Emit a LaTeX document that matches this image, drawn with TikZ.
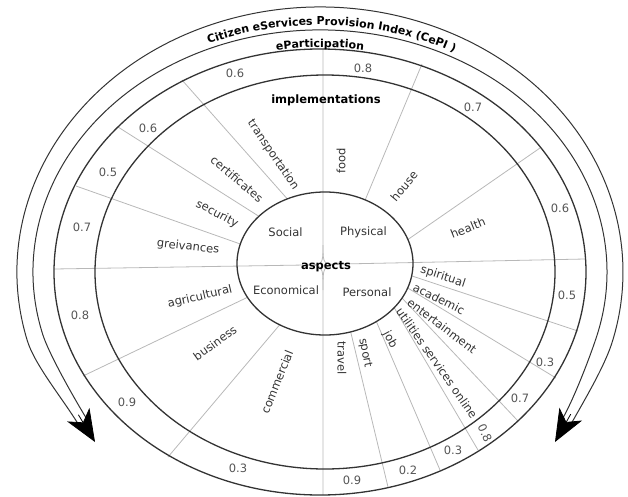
\documentclass[tikz,border=0pt]{standalone}
\usepackage{fontspec}
\setmainfont{DejaVu Sans}
\usetikzlibrary{arrows.meta,decorations.text}

\definecolor{ringline}{HTML}{333333}
\definecolor{spokeline}{HTML}{B8B8B8}
\definecolor{labeltext}{HTML}{333333}
\definecolor{scoretext}{HTML}{555555}

\begin{document}
\begin{tikzpicture}[x=1pt, y=1pt,
    ring/.style={draw=ringline, line width=1.3pt},
    band/.style={draw=ringline, line width=1pt},
    spoke/.style={draw=spokeline, line width=0.8pt},
    itemtext/.style={text=labeltext, font=\fontsize{11.5}{13}\selectfont, inner sep=0pt},
    score/.style={text=scoretext, font=\fontsize{11.5}{13}\selectfont, inner sep=0pt},
    heading/.style={text=black, font=\fontsize{11.5}{13}\selectfont\bfseries, inner sep=0pt},
    arrowhead/.style={-{Stealth[length=32pt, width=26pt, inset=9pt]}, line width=0.8pt}]
    \useasboundingbox (-320,-224) rectangle (308,272);

    % Draw the cross through the aspects
    \coordinate (vtop) at (3,223);
    \coordinate (vbot) at (3,-223);
    \coordinate (hleft) at (-266,3);
    \coordinate (hright) at (265,13);
    \coordinate (ctr) at (3,7);
    \coordinate (cn) at (3,27);
    \coordinate (cs) at (3,-18);
    \coordinate (cw) at (-15,7);
    \coordinate (ce) at (22,8);
    \draw[spoke] (vtop) -- (cn) .. controls (ctr) .. (cw) -- (hleft);
    \draw[spoke] (cn) .. controls (ctr) .. (ce) -- (hright);
    \draw[spoke] (vbot) -- (cs) .. controls (ctr) .. (cw);
    \draw[spoke] (cs) .. controls (ctr) .. (ce);

    % Draw dividers for Social
    \draw[spoke] (-32.7,73.1) -- (-138,192);
    \draw[spoke] (-61.1,55.7) -- (-202,145);
    \draw[spoke] (-79.7,28.0) -- (-244,86);

    % Draw dividers for Physical
    \draw[spoke] (45.2,72.1) -- (102,208);
    \draw[spoke] (87.9,32.5) -- (220,124);

    % Draw dividers for Economical
    \draw[spoke] (-72.5,-25.3) -- (-237,-104);
    \draw[spoke] (-40.3,-52.8) -- (-152,-185);

    % Draw dividers for Personal
    \draw[spoke] (91.7,-3.9) -- (258,-59);
    \draw[spoke] (87.7,-16.0) -- (236,-106);
    \draw[spoke] (82.0,-26.0) -- (198,-149);
    \draw[spoke] (74.2,-35.7) -- (158,-178);
    \draw[spoke] (56.4,-49.6) -- (120,-198);
    \draw[spoke] (30.7,-59.9) -- (68,-215);

    % Draw the rings
    \draw[ring] (0,0) ellipse[x radius=266, y radius=223];
    \draw[ring] (5,0) ellipse[x radius=230, y radius=197];
    \draw[ring] (5,8.5) ellipse[x radius=88, y radius=71.5];

    % Draw the two arrows round the rings
    \draw[band] (-241.7,-152.2) .. controls (-257.3,-126.7) and (-285.5,-92.6) .. (-292.7,-68.6)
        arc[start angle=195, end angle=-15, x radius=303, y radius=265]
        .. controls (285.5,-92.6) and (265.9,-125.6) .. (251.2,-151.7);
    \draw[band] (-233.2,-147) .. controls (-246.2,-125.8) and (-271.2,-81.6) .. (-277.2,-62.6)
        arc[start angle=195, end angle=-15, x radius=287, y radius=242]
        .. controls (271.2,-81.6) and (254.8,-125) .. (242.5,-146.8);
    \draw[arrowhead] (-241.6,-142.8) -- (-225,-170);
    \draw[arrowhead] (250.7,-142.2) -- (235,-170);

    % Draw the texts along the arrows
    \path[decorate, decoration={text along path, text align=center, text color=black,
        text={|\fontsize{11}{13}\selectfont\bfseries|Citizen eServices Provision Index (CePI )}}]
        (-143.3,215.0) arc[start angle=119.5, end angle=55.5, x radius=291, y radius=247];
    \path[decorate, decoration={text along path, text align=center, text color=black,
        text={|\fontsize{11}{13}\selectfont\bfseries|eParticipation}}]
        (-91.7,211.4) arc[start angle=110, end angle=70, x radius=268, y radius=225];

    % Draw nodes for the aspects
    \node[heading] (aspects) at (6,5) {aspects};
    \node[itemtext] (social) at (-34.5,39.5) {Social};
    \node[itemtext] (physical) at (43.5,40) {Physical};
    \node[itemtext] (economical) at (-34,-18.5) {Economical};
    \node[itemtext] (personal) at (47,-20) {Personal};
    \node[heading] (implementations) at (6,172) {implementations};

    % Draw nodes for Social
    \node[itemtext, rotate=-56] (transportation) at (-47,117) {transportation};
    \node[itemtext, rotate=-40] (certificates) at (-83,93) {certificates};
    \node[itemtext, rotate=-28] (security) at (-103,58) {security};
    \node[itemtext, rotate=-6] (greivances) at (-132,25) {greivances};
    \node[score] (sc1) at (-85,199) {0.6};
    \node[score] (sc2) at (-172,144) {0.6};
    \node[score] (sc3) at (-212,100) {0.5};
    \node[score] (sc4) at (-238,45) {0.7};

    % Draw nodes for Physical
    \node[itemtext, rotate=90] (food) at (21,111) {food};
    \node[itemtext, rotate=50] (house) at (84,86) {house};
    \node[itemtext, rotate=22] (health) at (148,44) {health};
    \node[score] (ph1) at (43,204) {0.8};
    \node[score] (ph2) at (153,165) {0.7};
    \node[score] (ph3) at (240,64) {0.6};

    % Draw nodes for Economical
    \node[itemtext, rotate=13] (agricultural) at (-120,-25) {agricultural};
    \node[itemtext, rotate=36] (business) at (-105,-71) {business};
    \node[itemtext, rotate=68] (commercial) at (-43,-110) {commercial};
    \node[score] (ec1) at (-240,-43) {0.8};
    \node[score] (ec2) at (-193,-130) {0.9};
    \node[score] (ec3) at (-82,-196) {0.3};

    % Draw nodes for Personal
    \node[itemtext, rotate=-18] (spiritual) at (123,-5) {spiritual};
    \node[itemtext, rotate=-26] (academic) at (119,-27) {academic};
    \node[itemtext, rotate=-37] (entertainment) at (122,-54) {entertainment};
    \node[itemtext, rotate=-55] (utilities) at (117,-91) {utilities services online};
    \node[itemtext, rotate=-62] (job) at (70,-68) {job};
    \node[itemtext, rotate=-79] (sport) at (45,-81) {sport};
    \node[itemtext, rotate=-90] (travel) at (22,-86) {travel};
    \node[score] (pe1) at (247,-23) {0.5};
    \node[score] (pe2) at (225,-90) {0.3};
    \node[score] (pe3) at (200,-126) {0.7};
    \node[score, rotate=-65] (pe4) at (165,-161) {0.8};
    \node[score] (pe5) at (133,-178) {0.3};
    \node[score] (pe6) at (88,-198) {0.2};
    \node[score] (pe7) at (32,-208) {0.9};
\end{tikzpicture}
\end{document}
